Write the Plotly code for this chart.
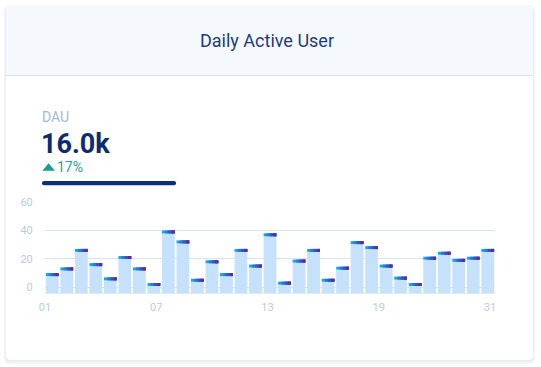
import plotly.graph_objects as go

# ---- data ----
day_num = list(range(1, 32))
dau = [10, 14, 27, 17, 7, 22, 14, 3, 40, 33, 6, 19, 10, 27, 16, 38, 4, 19.5, 27, 6,
       14.5, 32.5, 29, 16, 7.5, 3, 21.5, 25, 20, 21.5, 27]
x_tick_labels = ["01", "07", "13", "19", "31"]
y_ticks = [0, 20, 40, 60]
title_text = "Daily Active User"
kpi_label = "DAU"
kpi_value = "16.0k"
kpi_change = "17%"

# ---- geometry (pixels) ----
W, H = 541, 367
L, R, T, B = 45, 46, 202, 74
PW, PH = W - L - R, H - T - B
BASE = -4
CAP = 2.1


def px(x):
    return (x - L) / PW


def py(y):
    return (H - B - y) / PH


def rrect(x0, y0, x1, y1, r, top_only=False):
    rx, ry = r / PW, r / PH
    X0, X1 = px(x0), px(x1)
    Y0, Y1 = py(y0), py(y1)  # Y0 top (larger), Y1 bottom
    if top_only:
        return (f"M{X0},{Y1} L{X0},{Y0-ry} Q{X0},{Y0} {X0+rx},{Y0} "
                f"L{X1-rx},{Y0} Q{X1},{Y0} {X1},{Y0-ry} L{X1},{Y1} Z")
    return (f"M{X0+rx},{Y1} L{X1-rx},{Y1} Q{X1},{Y1} {X1},{Y1+ry} "
            f"L{X1},{Y0-ry} Q{X1},{Y0} {X1-rx},{Y0} L{X0+rx},{Y0} "
            f"Q{X0},{Y0} {X0},{Y0-ry} L{X0},{Y1+ry} Q{X0},{Y1} {X0+rx},{Y1} Z")


fig = go.Figure()

BW = 0.88
fig.add_trace(go.Bar(
    x=day_num, y=[v - CAP - BASE for v in dau], base=BASE, width=BW,
    marker=dict(color="#c6e1fb", line=dict(width=0)), hoverinfo="skip", xaxis="x", yaxis="y"))

cap_colors = ["#12a6ea", "#2a7ad3", "#4350ba", "#5a2ba2"]
n = len(cap_colors)
seg = BW / n
for k, c in enumerate(cap_colors):
    start = -BW / 2 + k * seg
    w = BW / 2 - start  # each segment runs to the right edge; later ones overlay earlier ones
    fig.add_trace(go.Bar(
        x=day_num, y=[CAP] * len(dau), base=[v - CAP for v in dau],
        width=w, offset=start,
        marker=dict(color=c, line=dict(width=0)), hoverinfo="skip", xaxis="x", yaxis="y"))

# invisible trace for the label axis
fig.add_trace(go.Scatter(x=[0, 4], y=[None, None], mode="markers", showlegend=False,
                         hoverinfo="skip", xaxis="x2", yaxis="y"))

shapes = [
    dict(type="path", xref="paper", yref="paper", path=rrect(4, 5, 535, 364, 6),
         fillcolor="#f2f5f9", line=dict(width=0), layer="below"),
    dict(type="path", xref="paper", yref="paper", path=rrect(5, 5, 534, 362, 6),
         fillcolor="#e8edf4", line=dict(width=0), layer="below"),
    dict(type="path", xref="paper", yref="paper", path=rrect(6, 5, 533, 360, 5),
         fillcolor="#ffffff", line=dict(width=0), layer="below"),
    dict(type="path", xref="paper", yref="paper", path=rrect(6, 5, 533, 75, 5, top_only=True),
         fillcolor="#f5f9fe", line=dict(width=0), layer="below"),
    dict(type="line", xref="paper", yref="paper", x0=px(6), x1=px(533), y0=py(75.5), y1=py(75.5),
         line=dict(color="#d3e4f6", width=1), layer="below"),
    # progress bar
    dict(type="path", xref="paper", yref="paper", path=rrect(42, 181, 176, 185.3, 2),
         fillcolor="#0a2f7d", line=dict(width=0), layer="above"),
    # up triangle
    dict(type="path", xref="paper", yref="paper",
         path=f"M{px(42.3)},{py(170.7)} L{px(55)},{py(170.7)} L{px(48.6)},{py(163.3)} Z",
         fillcolor="#1b9c96", line=dict(width=0), layer="above"),
]

annotations = [
    dict(text=title_text, x=px(267), y=py(40), xref="paper", yref="paper",
         xanchor="center", yanchor="middle", showarrow=False,
         font=dict(family="Roboto", size=18, color="#1c3a82")),
    dict(text=kpi_label, x=px(39.5), y=py(117), xref="paper", yref="paper",
         xanchor="left", yanchor="middle", showarrow=False,
         font=dict(family="Roboto", size=14, color="#a3b9da")),
    dict(text=f"<b>{kpi_value}</b>", x=px(39), y=py(144), xref="paper", yref="paper",
         xanchor="left", yanchor="middle", showarrow=False,
         font=dict(family="Roboto", size=27, color="#0c2c72")),
    dict(text=kpi_change, x=px(55), y=py(167), xref="paper", yref="paper",
         xanchor="left", yanchor="middle", showarrow=False,
         font=dict(family="Roboto", size=14, color="#20a59c")),
]

fig.update_layout(
    width=W, height=H,
    margin=dict(l=L, r=R, t=T, b=B, pad=0),
    paper_bgcolor="#ffffff", plot_bgcolor="rgba(0,0,0,0)",
    barmode="overlay", showlegend=False,
    font=dict(family="Roboto", size=11, color="#b9cce4"),
    shapes=shapes, annotations=annotations,
    xaxis=dict(range=[0.5, 31.5], showticklabels=False, showgrid=False, zeroline=False,
               showline=True, linecolor="#e0eaf5", linewidth=1, ticks="", fixedrange=True),
    xaxis2=dict(overlaying="x", anchor="y", side="bottom", range=[0, 4.045],
                tickvals=[0, 1, 2, 3, 4], ticktext=x_tick_labels, showgrid=False,
                zeroline=False, showline=False, ticks="outside", ticklen=4,
                tickcolor="rgba(0,0,0,0)", tickfont=dict(family="Roboto", size=11, color="#b9cce4")),
    yaxis=dict(range=[BASE, 60], tickvals=y_ticks, showgrid=True, gridcolor="#d6e3f1",
               gridwidth=1, zeroline=False, showline=False, ticks="outside", ticklen=9,
               tickcolor="rgba(0,0,0,0)", tickfont=dict(family="Roboto", size=11, color="#b9cce4")),
)

fig.write_html("out.html", config={"displayModeBar": False},
               post_script="document.body.style.margin='0';document.body.style.overflow='hidden';")
